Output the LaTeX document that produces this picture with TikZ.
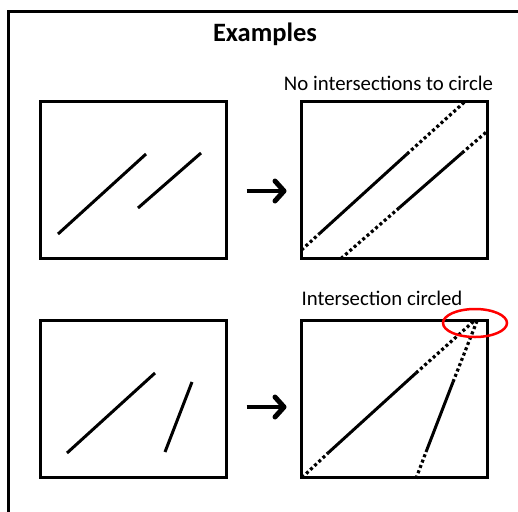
\documentclass[tikz,border=0pt]{standalone}
\usepackage{fontspec}
\setmainfont{Carlito}
\usetikzlibrary{arrows.meta}

\begin{document}
\begin{tikzpicture}[x=1pt,y=-1pt,
    panel/.style={draw,line width=3pt,minimum width=186pt,minimum height=157pt,inner sep=0pt},
    seg/.style={line width=3pt},
    dotseg/.style={line width=3.2pt,dash pattern=on 3pt off 2.7pt},
    bigarrow/.style={-{Straight Barb[length=9pt,width=20pt,line width=5pt,round]},line width=4.3pt}]
            \useasboundingbox (0,0) rectangle (518,511);
            \draw[line width=3pt] (8.5,530) |- (530,12);
            \node[font=\bfseries\fontsize{26.5}{30}\selectfont,anchor=base] (title) at (265,41.5) {Examples};

            % top row: no intersection
            \node[panel] (tl) at (133.5,180) {};
            \node[panel] (tr) at (394.5,180) {};
            \node[font=\fontsize{20.8}{24}\selectfont,anchor=base] (nocap) at (388.5,90.5) {No intersections to circle};
            \draw[bigarrow,shorten <=18.5pt,shorten >=13.5pt] ([yshift=-11pt]tl.east) -- ([yshift=-11pt]tr.west);

            \draw[seg] (58,234) -- (146,154);
            \draw[seg] (138,208) -- (201,153);

            \draw[dotseg] (301.5,250) -- (319,234);
            \draw[dotseg] (407,154) -- (464.5,102);
            \draw[seg] (319,234) -- (407,154);
            \draw[dotseg] (341,258.5) -- (399,208);
            \draw[dotseg] (462,153) -- (487.5,131);
            \draw[seg] (399,208) -- (462,153);

            % bottom row: lines meet
            \node[panel] (bl) at (133.5,399) {};
            \node[panel] (br) at (394.5,399) {};
            \node[font=\fontsize{20.8}{24}\selectfont,anchor=base] (yescap) at (382,305) {Intersection circled};
            \draw[bigarrow,shorten <=18.5pt,shorten >=13.5pt] ([yshift=-8pt]bl.east) -- ([yshift=-8pt]br.west);

            \draw[seg] (67,453) -- (155,373);
            \draw[seg] (165,452) -- (192,382);

            \draw[dotseg] (302,477.5) -- (328,453);
            \draw[dotseg] (416,373) -- (474,321);
            \draw[seg] (328,453) -- (416,373);
            \draw[dotseg] (416,478.5) -- (426,452);
            \draw[dotseg] (453,382) -- (477,321);
            \draw[seg] (426,452) -- (453,382);

            \draw[red,line width=2.5pt] (475,323) ellipse (32 and 14);
        \end{tikzpicture}
\end{document}
